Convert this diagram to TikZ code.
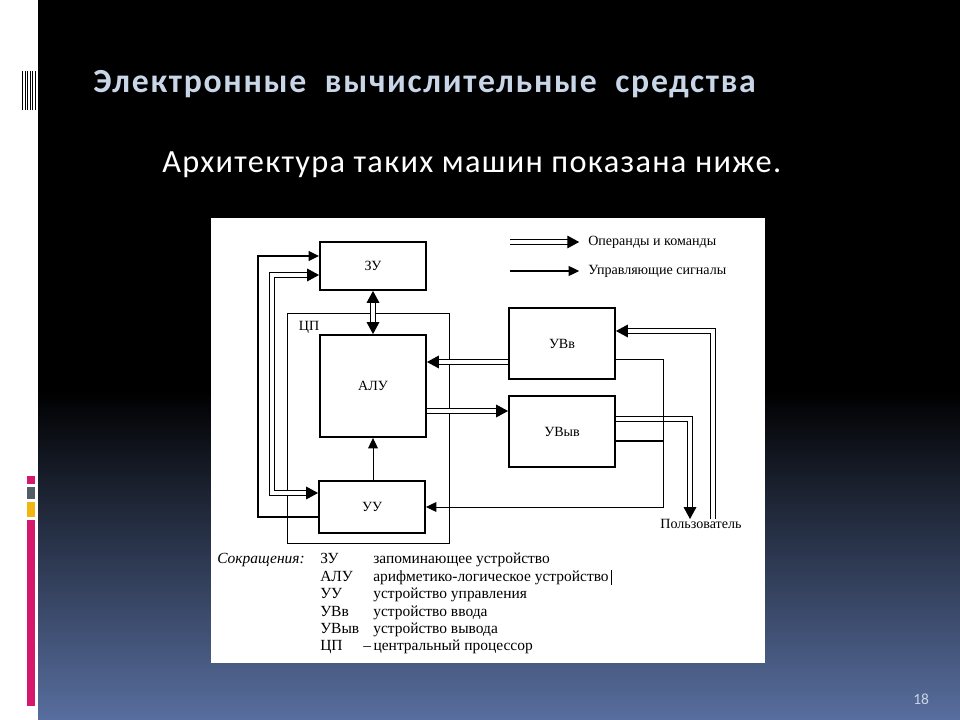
\documentclass[tikz,border=0pt]{standalone}
\usepackage{fontspec}
\setmainfont{Liberation Serif}
\newfontfamily\slidefont{Carlito}
\newfontfamily\titlefont[LetterSpace=5]{Carlito}
\newfontfamily\subtitlefont[LetterSpace=4]{Carlito}
\usepackage{tikz}
\usetikzlibrary{arrows.meta}

\definecolor{slidenavy}{RGB}{88,110,158}
\definecolor{titlegrey}{RGB}{200,214,232}
\definecolor{barpink}{RGB}{214,24,108}
\definecolor{bargrey}{RGB}{84,92,102}
\definecolor{bargold}{RGB}{240,182,20}

\begin{document}
\begin{tikzpicture}[
    x=0.025cm, y=-0.025cm,
    unit box/.style={
        draw=black,
        line width=1.3pt,
        inner sep=0pt,
        minimum width=2.65cm,
        font=\fontsize{10}{12}\selectfont
    },
    bus line/.style={
        double, double distance=2.4pt, line width=0.8pt,
        >={Triangle[length=8.5pt, width=9pt]}, ->
    },
    signal line/.style={
        line width=1.1pt,
        >={Triangle[length=7.5pt, width=7pt]}, ->
    },
    diagram text/.style={inner sep=0pt, font=\fontsize{10}{12}\selectfont},
    list text/.style={inner sep=0pt, anchor=base west, font=\fontsize{11}{13}\selectfont}
]
    % фон слайда
    \useasboundingbox (0,0) rectangle (960,720);
    \fill[white] (0,0) rectangle (960,720);
    \fill[black] (38,0) rectangle (960,720);
    \shade[top color=black, bottom color=slidenavy] (38,390) rectangle (960,720);
    \foreach \bx in {22,24.5,27,29.5,32,34.5}
        \fill[black] (\bx,71) rectangle (\bx+1.2,110);
    \fill[barpink] (27,476) rectangle (35,484);
    \fill[bargrey] (27,487) rectangle (35,499);
    \fill[bargold] (27,502) rectangle (35,517);
    \fill[barpink] (27,520) rectangle (35,706);

    % заголовки
    \node[anchor=base west, inner sep=0pt, text=titlegrey,
          font=\titlefont\bfseries\fontsize{24}{27}\selectfont] (title) at (93,93)
          {Электронные\ \ вычислительные\ \ средства};
    \node[anchor=base west, inner sep=0pt, text=white,
          font=\subtitlefont\fontsize{23}{26}\selectfont] (subtitle) at (162,173)
          {Архитектура таких машин показана ниже.};
    \node[anchor=base west, inner sep=0pt, text=titlegrey,
          font=\slidefont\fontsize{11}{12}\selectfont] (page) at (913,704) {18};

    % белое поле со схемой
    \fill[white] (211,218) rectangle (765,663);

    % блоки
    \node[draw=black, line width=0.7pt, minimum width=4.025cm, minimum height=5.725cm] (cp) at (368.5,428.5) {};
    \node[diagram text] (cplabel) at (309,327) {ЦП};
    \node[unit box, minimum height=1.2cm] (zu) at (373,266) {ЗУ};
    \node[unit box, minimum height=2.55cm] (alu) at (373,386) {АЛУ};
    \node[unit box, minimum height=1.3cm] (uu) at (372,507) {УУ};
    \node[unit box, minimum height=1.775cm] (uvv) at (562,343.5) {УВв};
    \node[unit box, minimum height=1.775cm] (uvyv) at (562,431.5) {УВыв};
    \node[diagram text] (user) at (701,524) {Пользователь};

    % точки изломов
    \coordinate (ctlA) at (258,256);
    \coordinate (ctlB) at (258,517);
    \coordinate (busA) at (272,275);
    \coordinate (busB) at (272,493);
    \coordinate (toalu) at (509,362);
    \coordinate (fromalu) at (426,411);
    \coordinate (inpt) at (713,331);
    \coordinate (outpt) at (690,419);
    \coordinate (ctlC) at (663,359);
    \coordinate (ctlD) at (663,507);
    \coordinate (ctlE) at (663,441);

    % связи
    \draw[bus line, <->] (zu.south) -- (alu.north);
    \draw[signal line] (uu.west |- ctlB) -- (ctlB) -- (ctlA) -- (zu.west |- ctlA);
    \draw[bus line, <->] (zu.west |- busA) -- (busA) -- (busB) -- (uu.west |- busB);
    \draw[signal line, line width=0.7pt] (uu.north -| alu.south) -- (alu.south);
    \draw[bus line] (uvv.west |- toalu) -- (alu.east |- toalu);
    \draw[bus line] (alu.east |- fromalu) -- (uvyv.west |- fromalu);
    \draw[bus line] (user.north -| inpt) -- (inpt) -- (uvv.east |- inpt);
    \draw[bus line] (uvyv.east |- outpt) -- (outpt) -- (user.north -| outpt);
    \draw[signal line, line width=0.7pt] (uvv.east |- ctlC) -- (ctlC) -- (ctlD) -- (uu.east |- ctlD);
    \draw[line width=1.3pt] (uvyv.east |- ctlE) -- (ctlE);

    % обозначения
    \node[diagram text, anchor=west] (ops) at (588,242) {Операнды и команды};
    \node[diagram text, anchor=west] (sigs) at (588,271) {Управляющие сигналы};
    \coordinate (opsstart) at (510,242);
    \coordinate (sigsstart) at (510,271);
    \draw[bus line] (opsstart) -- ([xshift=-0.22cm]ops.west);
    \draw[signal line] (sigsstart) -- ([xshift=-0.22cm]sigs.west);

    % сокращения
    \node[list text] (abbr) at (217,563) {\textit{Сокращения:}};
    \node[list text] (ab1) at (320,563) {ЗУ};
    \node[list text] (ds1) at (373,563) {запоминающее устройство};
    \node[list text] (ab2) at (320,581) {АЛУ};
    \node[list text] (ds2) at (373,581) {арифметико-логическое устройство};
    \node[list text] (ab3) at (320,598) {УУ};
    \node[list text] (ds3) at (373,598) {устройство управления};
    \node[list text] (ab4) at (320,616) {УВв};
    \node[list text] (ds4) at (373,616) {устройство ввода};
    \node[list text] (ab5) at (320,633) {УВыв};
    \node[list text] (ds5) at (373,633) {устройство вывода};
    \node[list text] (ab6) at (320,650) {ЦП};
    \node[list text] (ds6) at (363,650) {–\,центральный процессор};
    \draw[line width=0.6pt] ([xshift=0.05cm]ds2.north east) -- ([xshift=0.05cm]ds2.south east);
\end{tikzpicture}
\end{document}
